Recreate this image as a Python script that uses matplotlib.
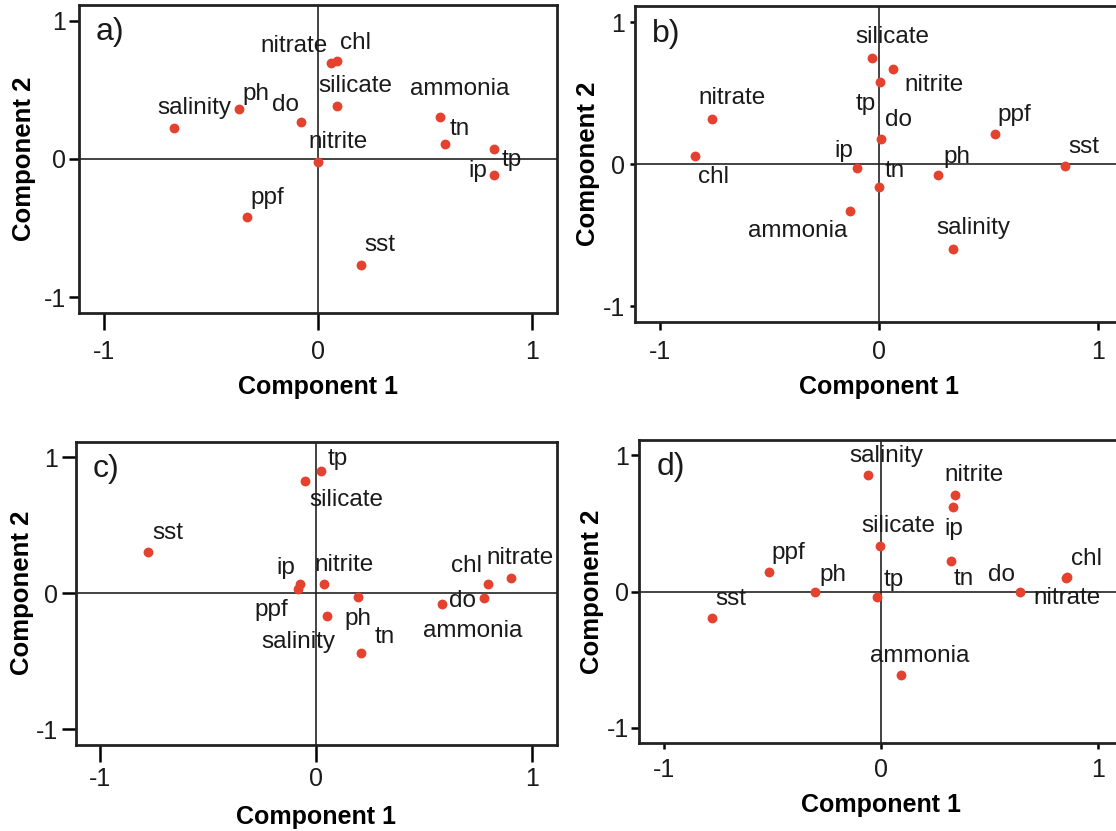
import matplotlib
matplotlib.use("Agg")
import matplotlib.pyplot as plt

plt.rcParams['font.family'] = ['Liberation Sans', 'DejaVu Sans']
plt.rcParams['axes.unicode_minus'] = False

variables = ['salinity', 'ph', 'do', 'nitrate', 'chl', 'silicate', 'nitrite',
             'ammonia', 'tn', 'tp', 'ip', 'ppf', 'sst']

# loadings, same order as `variables`
pc1_a = [-0.67, -0.37, -0.08, 0.06, 0.09, 0.09, 0.00, 0.57, 0.59, 0.82, 0.82, -0.33, 0.20]
pc2_a = [0.22, 0.36, 0.27, 0.69, 0.71, 0.38, -0.02, 0.30, 0.11, 0.07, -0.12, -0.42, -0.77]

pc1_b = [0.34, 0.27, 0.01, -0.76, -0.84, -0.03, 0.065, -0.13, 0.00, 0.005, -0.10, 0.53, 0.85]
pc2_b = [-0.60, -0.075, 0.18, 0.32, 0.06, 0.75, 0.67, -0.33, -0.16, 0.58, -0.03, 0.21, -0.01]

pc1_c = [0.05, 0.195, 0.776, 0.903, 0.794, -0.051, 0.036, 0.581, 0.207, 0.023, -0.078, -0.083, -0.781]
pc2_c = [-0.165, -0.027, -0.032, 0.115, 0.066, 0.823, 0.066, -0.081, -0.437, 0.897, 0.066, 0.032, 0.300]

pc1_d = [-0.061, -0.305, 0.640, 0.853, 0.856, -0.003, 0.342, 0.092, 0.323, -0.016, 0.334, -0.515, -0.777]
pc2_d = [0.855, -0.005, 0.0, 0.097, 0.109, 0.335, 0.712, -0.612, 0.226, -0.036, 0.620, 0.146, -0.194]

# label offsets in pixels (dx right, dy down), one per variable
offs_a = [(20, -20), (17, -15), (-15, -17), (-37, -17), (18, -18), (18, -20), (20, -20),
          (19, -28), (15, -15), (18, 11), (-16, -4), (20, -19), (19, -20)]
offs_b = [(20, -21), (19, -18), (18, -19), (20, -21), (19, 21), (20, -21), (41, 16),
          (-53, 20), (16, -16), (-14, 22), (-13, -17), (20, -19), (19, -19)]
offs_c = [(-29, 26), (-1, 22), (-21, 3), (9, -20), (-21, -18), (41, 19), (20, -19),
          (31, 27), (24, -16), (16, -12), (-14, -16), (-27, 21), (20, -19)]
offs_d = [(19, -19), (18, -17), (-18, -17), (1, 20), (20, -18), (18, -20), (19, -20),
          (19, -19), (13, 18), (16, -17), (1, 22), (19, -19), (19, -19)]

W, H = 1116, 831
fig = plt.figure(figsize=(W / 100, H / 100), dpi=100)

# panel: frame in pixels (left, top, width, height), tick lengths/pads (px), label coords
panels = [
    ('a)', pc1_a, pc2_a, offs_a, (79.3, 5, 477.4, 307.7), (17, 10, 10, 3), (-0.09, -0.202)),
    ('b)', pc1_b, pc2_b, offs_b, (635, 6, 487.5, 316.3), (8, 10, 5, 5), (-0.071, -0.167)),
    ('c)', pc1_c, pc2_c, offs_c, (76, 442, 480.7, 302.5), (17, 6, 14, 4), (-0.087, -0.2)),
    ('d)', pc1_d, pc2_d, offs_d, (639.3, 440, 483, 303.3), (6, 9, 8, 2), (-0.073, -0.164)),
]

lim = 1.113
px = 0.72  # points per pixel at 100 dpi

for letter, xs, ys, offs, box, tk, lab in panels:
    l, t, w, h = box
    ax = fig.add_axes([l / W, 1 - (t + h) / H, w / W, h / H])
    ax.set_xlim(-lim, lim)
    ax.set_ylim(-lim, lim)
    ax.axhline(0, color='#222222', lw=1.2, zorder=1)
    ax.axvline(0, color='#222222', lw=1.2, zorder=1)
    ax.scatter(xs, ys, s=50, color='#e4412f', zorder=3, linewidths=0)
    for name, x, y, (dx, dy) in zip(variables, xs, ys, offs):
        ax.annotate(name, (x, y), xytext=(dx, -dy), textcoords='offset pixels',
                    ha='center', va='center', fontsize=17.5, color='#1a1a1a')
    ax.text(0.035, 0.96, letter, transform=ax.transAxes, ha='left', va='top',
            fontsize=23, color='#1a1a1a')

    ax.set_xticks([-1, 0, 1])
    ax.set_yticks([-1, 0, 1])
    ax.set_xticklabels(['-1', '0', '1'])
    ax.set_yticklabels(['-1', '0', '1'])
    ax.tick_params(axis='x', length=tk[0] * px, pad=tk[1] * px, width=1.8, labelsize=18,
                   labelcolor='#1a1a1a')
    ax.tick_params(axis='y', length=tk[2] * px, pad=tk[3] * px, width=1.8, labelsize=18,
                   labelcolor='#1a1a1a')
    for sp in ax.spines.values():
        sp.set_linewidth(2.0)
        sp.set_color('#222222')

    ax.set_xlabel('Component 1', fontsize=18, fontweight='bold')
    ax.set_ylabel('Component 2', fontsize=18.5, fontweight='bold')
    ax.xaxis.set_label_coords(0.5, lab[1])
    ax.yaxis.set_label_coords(lab[0], 0.5)

fig.savefig('out.png', dpi=100)
